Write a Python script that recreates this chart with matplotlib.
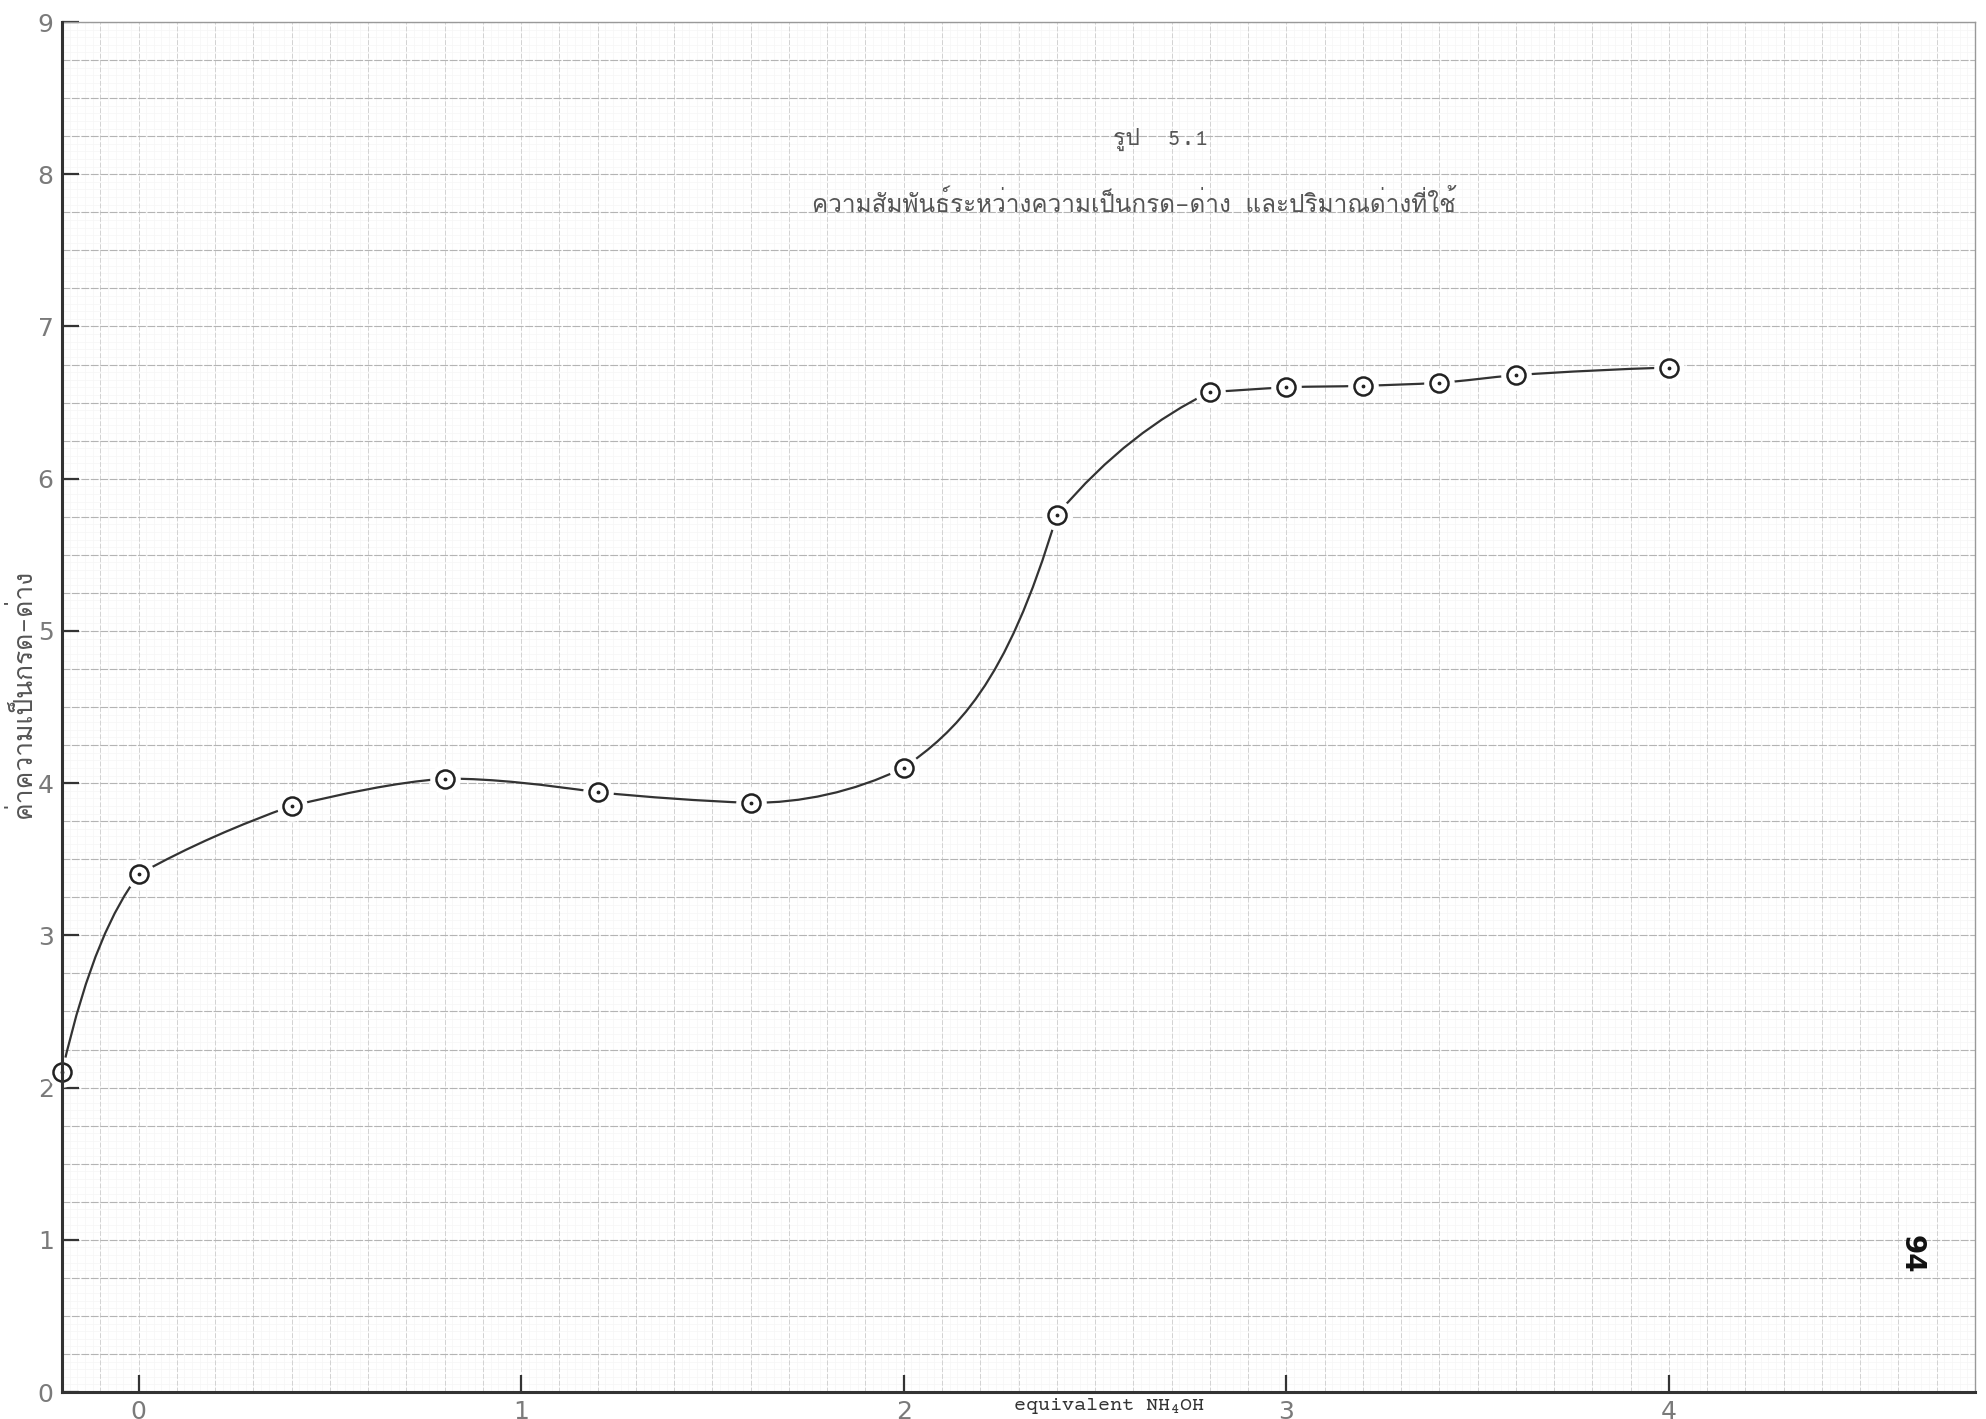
import numpy as np
import matplotlib
matplotlib.use("Agg")
import matplotlib.pyplot as plt
from matplotlib.path import Path
from matplotlib.patches import PathPatch

# readings off the graph paper
x_eq = [-0.2, 0.0, 0.4, 0.8, 1.2, 1.6, 2.0, 2.4, 2.8, 3.0, 3.2, 3.4, 3.6, 4.0]
ph = [2.10, 3.40, 3.85, 4.03, 3.94, 3.87, 4.10, 5.76, 6.57, 6.60, 6.61, 6.63, 6.68, 6.73]
# slope of the hand drawn curve where it enters / leaves each point
slope_in = [0.0, 3.5, 0.9, 0.2, -0.35, -0.1, 1.2, 8.5, 1.26, 0.12, 0.08, 0.15, 0.2, 0.08]
slope_out = [11.0, 1.4, 0.6, 0.0, -0.25, 0.0, 1.8, 3.0, 0.12, 0.1, 0.08, 0.17, 0.18, 0.0]

x_ticks = [0, 1, 2, 3, 4]
y_ticks = [0, 1, 2, 3, 4, 5, 6, 7, 8, 9]

fig_no = "รูป  5.1"
title = "ความสัมพันธ์ระหว่างความเป็นกรด-ด่าง และปริมาณด่างที่ใช้"
ylabel = "ค่าความเป็นกรด-ด่าง"
xlabel = r"equivalent NH$_\mathregular{4}$OH"
page = "94"

typewriter = ["Courier Prime", "Loma", "DejaVu Sans"]

fig = plt.figure(figsize=(19.86, 14.19), dpi=100)
ax = fig.add_axes([62 / 1986, 27 / 1419, 1913 / 1986, 1370 / 1419])
ax.set_xlim(-0.2, 4.8)
ax.set_ylim(0, 9)

# graph paper
ax.vlines(np.arange(-0.2, 4.801, 0.02), 0, 9, color="#f6f6f6", lw=0.5, zorder=0)
ax.hlines(np.arange(0, 9.001, 0.05), -0.2, 4.8, color="#f6f6f6", lw=0.5, zorder=0)
ax.vlines(np.arange(-0.2, 4.801, 0.1), 0, 9, color="#d2d2d2", lw=0.7,
          linestyles=(0, (5, 2)), zorder=0.5)
ax.hlines(np.arange(0, 9.001, 0.25), -0.2, 4.8, color="#b4b4b4", lw=0.8,
          linestyles=(0, (7, 1.5)), zorder=0.5)

# smooth hand-drawn style curve: cubic pieces between the points
verts = [(x_eq[0], ph[0])]
codes = [Path.MOVETO]
for i in range(len(x_eq) - 1):
    h = x_eq[i + 1] - x_eq[i]
    verts += [(x_eq[i] + h / 3, ph[i] + slope_out[i] * h / 3),
              (x_eq[i + 1] - h / 3, ph[i + 1] - slope_in[i + 1] * h / 3),
              (x_eq[i + 1], ph[i + 1])]
    codes += [Path.CURVE4] * 3
ax.add_patch(PathPatch(Path(verts, codes), fc="none", ec="#333333", lw=1.6, zorder=2,
                       clip_on=False))

ax.plot(x_eq, ph, "o", ms=22, mfc="white", mec="none", zorder=3, clip_on=False)
ax.plot(x_eq, ph, "o", ms=13, mfc="white", mec="#222222", mew=1.8, zorder=4, clip_on=False)
ax.plot(x_eq, ph, ".", ms=3.5, color="#222222", zorder=5, clip_on=False)

ax.set_xticks(x_ticks)
ax.set_yticks(y_ticks)
ax.tick_params(direction="in", length=12, width=1.6, color="#333333",
               labelsize=18, labelcolor="#7a7a7a", pad=6)
for s in ["left", "bottom"]:
    ax.spines[s].set_linewidth(2.2)
    ax.spines[s].set_color("#333333")
for s in ["top", "right"]:
    ax.spines[s].set_linewidth(1.0)
    ax.spines[s].set_color("#999999")
ax.spines["left"].set_zorder(6)

fig.text(1113 / 1986, 1 - 139 / 1419, fig_no, family=typewriter, fontsize=16.5,
         color="#555555", ha="left", va="center")
fig.text(1134 / 1986, 1 - 203 / 1419, title, family=typewriter, fontsize=17.5,
         color="#555555", ha="center", va="center")
fig.text(22 / 1986, 1 - 693 / 1419, ylabel, family=typewriter, fontsize=19,
         color="#555555", rotation=90, ha="center", va="center")
fig.text(1013 / 1986, 1 - 1406 / 1419, xlabel, family=["Courier Prime", "DejaVu Sans Mono"],
         fontsize=14.5, color="#333333", ha="left", va="center")
fig.text(1912 / 1986, 1 - 1254 / 1419, page, fontsize=20, fontweight="bold",
         color="#111111", rotation=-90, ha="center", va="center")

fig.savefig("out.png", dpi=100)
